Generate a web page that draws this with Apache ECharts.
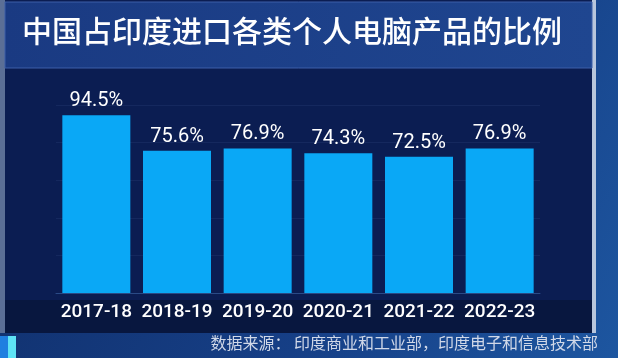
<!DOCTYPE html>
<html><head><meta charset="utf-8">
<script src="https://cdn.jsdelivr.net/npm/echarts@6/dist/echarts.min.js"></script>
<style>html,body{margin:0;padding:0;background:#123a78;}#c{width:618px;height:358px;}</style>
</head><body><div id="c"></div>
<script>
const categories = ['2017-18','2018-19','2019-20','2020-21','2021-22','2022-23'];
const values = [94.5, 75.6, 76.9, 74.3, 72.5, 76.9];
const titleText = '中国占印度进口各类个人电脑产品的比例';
const sourceText = '数据来源： 印度商业和工业部，印度电子和信息技术部';

const chart = echarts.init(document.getElementById('c'));
chart.setOption({
  backgroundColor: {type:'linear',x:0,y:0,x2:1,y2:1,colorStops:[{offset:0,color:'#0f2c66'},{offset:0.6,color:'#163f86'},{offset:1,color:'#1d56a0'}]},
  graphic: [
    {type:'rect', shape:{x:5,y:0,width:588,height:333}, style:{fill:'#0b1d52'}, z:-10},
    {type:'rect', shape:{x:0,y:0,width:5,height:333}, style:{fill:'#5b6f96'}, z:-9},
    {type:'rect', shape:{x:592,y:0,width:4,height:333}, style:{fill:'#b8c6dc'}, z:-9},
    {type:'rect', shape:{x:5,y:2,width:587,height:66}, style:{fill:{type:'linear',x:0,y:0,x2:1,y2:0,colorStops:[{offset:0,color:'#1a3a82'},{offset:1,color:'#1f4690'}]}, stroke:'#3c5fa8', lineWidth:1}, z:-8},
    {type:'rect', shape:{x:5,y:300,width:587,height:33}, style:{fill:'#08173f'}, z:-8},
    {type:'rect', shape:{x:0,y:336,width:8,height:22}, style:{fill:'#1f7fe0'}, z:-7},
    {type:'rect', shape:{x:8,y:336,width:8,height:22}, style:{fill:'#5ee3f5'}, z:-7},
    {type:'text', left:22, top:16, style:{text:titleText, fill:'#ffffff', font:'500 30px "Noto Sans CJK SC"'}},
    {type:'text', right:20, top:335, style:{text:sourceText, fill:'#d0d8e8', font:'16px "Noto Sans CJK SC"'}}
  ],
  grid: {left:56, width:484, top:105, bottom:65},
  xAxis: {
    type:'category', data:categories,
    axisLine:{show:true, lineStyle:{color:'#2a4a86', width:1}},
    axisTick:{show:false},
    axisLabel:{interval:0, color:'#ffffff', fontSize:19, fontFamily:'Roboto, sans-serif', fontWeight:500, margin:10}
  },
  yAxis: {
    type:'value', min:0, max:100, show:true,
    axisLine:{show:false}, axisTick:{show:false}, axisLabel:{show:false},
    splitLine:{show:true, lineStyle:{color:'rgba(80,110,170,0.15)'}}
  },
  series: [{
    type:'bar', data:values, barWidth:68,
    itemStyle:{color:'#0aa8f6'},
    label:{show:true, position:'top', distance:4, formatter:p=>p.value.toFixed(1)+'%', color:'#ffffff', fontSize:20, fontFamily:'Roboto, sans-serif'}
  }]
});
</script></body></html>
